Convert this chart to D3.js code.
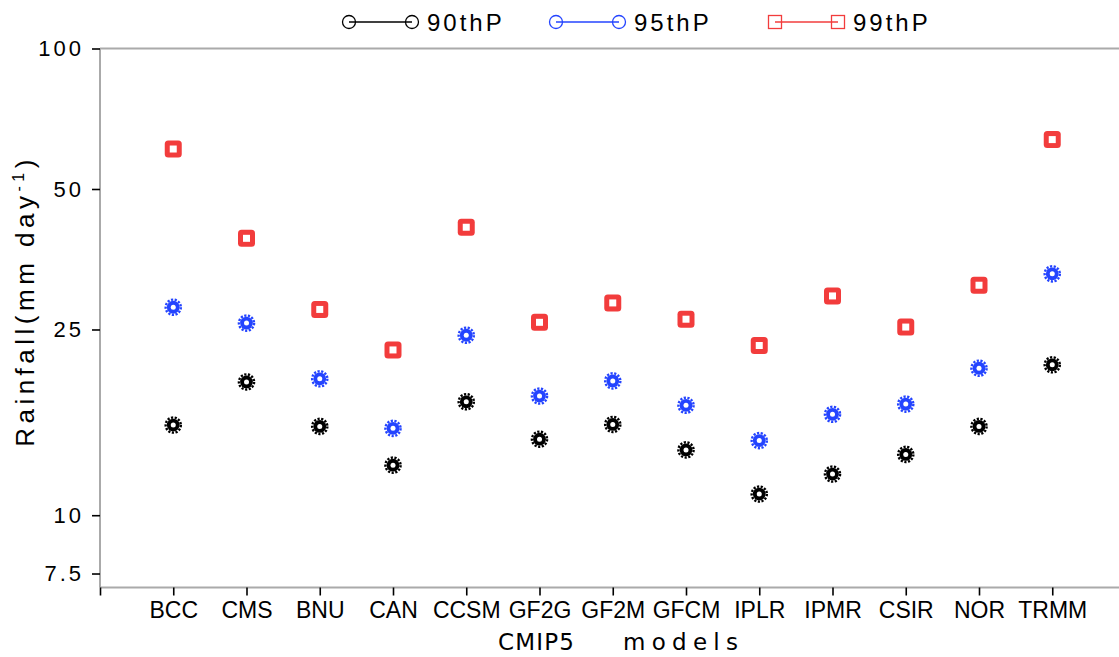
<!DOCTYPE html>
<html lang="en">
<head>
  <meta charset="UTF-8">
  <script src="https://cdn.jsdelivr.net/npm/d3@7"></script>
  <title>Rainfall percentiles - CMIP5 models</title>
  <style>
    body { margin: 0; background: #fff; }
    text { font-family: "Liberation Sans", Arial, sans-serif; fill: #000; }
  </style>
</head>
<body>
  <div class="fig"></div>
  <script>
    // ---------------- data ----------------
    const models = ["BCC", "CMS", "BNU", "CAN", "CCSM", "GF2G", "GF2M", "GFCM", "IPLR", "IPMR", "CSIR", "NOR", "TRMM"];
    const p90 = [15.6, 19.3, 15.5, 12.8, 17.5, 14.55, 15.65, 13.8, 11.1, 12.25, 13.5, 15.5, 21.0];
    const p95 = [27.9, 25.8, 19.6, 15.35, 24.3, 18.0, 19.4, 17.2, 14.45, 16.45, 17.3, 20.65, 32.9];
    const p99 = [60.9, 39.2, 27.6, 22.6, 41.4, 25.9, 28.5, 26.3, 23.1, 29.5, 25.3, 31.1, 63.8];
    const yTicks = [7.5, 10, 25, 50, 100];
    const seriesNames = ["90thP", "95thP", "99thP"];

    // ---------------- layout ----------------
    const width = 1119, height = 657;
    const svg = d3.select(".fig").append("svg")
      .attr("width", width)
      .attr("height", height);

    const x = d3.scaleLinear().domain([0, 14]).range([100, 100 + 14 * 73.25]);
    const y = d3.scaleLog().domain([7, 100]).range([587.5, 48.5]);

    const red = "#f23c3c", blue = "#2444ff", black = "#000";

    // frame lines (left, top, bottom) in grey
    svg.append("line").attr("x1", 100).attr("x2", 100).attr("y1", y(100)).attr("y2", y(7))
      .attr("stroke", "#aaa").attr("stroke-width", 2);
    svg.append("line").attr("x1", 100).attr("x2", width).attr("y1", y(100)).attr("y2", y(100))
      .attr("stroke", "#aaa").attr("stroke-width", 2);
    svg.append("line").attr("x1", 100).attr("x2", width).attr("y1", y(7)).attr("y2", y(7))
      .attr("stroke", "#aaa").attr("stroke-width", 2);

    // y axis
    const yAxis = d3.axisLeft(y).tickValues(yTicks).tickFormat(d => d).tickSize(8).tickPadding(8);
    const gy = svg.append("g").attr("transform", "translate(100,0)").call(yAxis);
    gy.select(".domain").remove();
    gy.selectAll(".tick line").attr("stroke", "#000").attr("stroke-width", 1.6);
    gy.selectAll(".tick text").style("font-size", "22px").style("font-family", "Liberation Sans, Arial, sans-serif")
      .attr("letter-spacing", "3px");

    // x axis
    const xAxis = d3.axisBottom(x).tickValues(d3.range(0, 14))
      .tickFormat(i => i === 0 ? "" : models[i - 1]).tickSize(8).tickPadding(6);
    const gx = svg.append("g").attr("transform", `translate(0,${y(7)})`).call(xAxis);
    gx.select(".domain").remove();
    gx.selectAll(".tick line").attr("stroke", "#000").attr("stroke-width", 1.6);
    gx.selectAll(".tick text").style("font-size", "23px").style("font-family", "Liberation Sans, Arial, sans-serif");

    // axis titles
    svg.append("text")
      .attr("x", 498).attr("y", 650)
      .attr("textLength", 76).attr("lengthAdjust", "spacing")
      .style("font-family", "DejaVu Sans, sans-serif")
      .style("font-size", "23px")
      .text("CMIP5");
    svg.append("text")
      .attr("x", 623).attr("y", 650)
      .attr("textLength", 115).attr("lengthAdjust", "spacing")
      .style("font-family", "DejaVu Sans, sans-serif")
      .style("font-size", "23px")
      .text("models");

    const yl = svg.append("text")
      .attr("transform", "translate(34,301) rotate(-90)")
      .attr("text-anchor", "middle")
      .style("font-size", "26px")
      .attr("letter-spacing", "4.5px");
    yl.append("tspan").text("Rainfall(mm  day");
    yl.append("tspan").attr("dy", -10).style("font-size", "16px").text("-1");
    yl.append("tspan").attr("dy", 10).text(")");

    // ---------------- markers ----------------
    function gear(g, color) {
      g.append("circle").attr("r", 6.4).attr("fill", color);
      g.append("circle").attr("r", 7.6).attr("fill", "none").attr("stroke", color)
        .attr("stroke-width", 2.4).attr("stroke-dasharray", "2.2 1.5");
      g.append("circle").attr("r", 2.5).attr("fill", "#fff");
    }
    function square(g, color) {
      g.append("rect").attr("x", -8.5).attr("y", -8.5).attr("width", 17).attr("height", 17)
        .attr("rx", 3.5).attr("fill", color);
      g.append("rect").attr("x", -3.5).attr("y", -3.5).attr("width", 7).attr("height", 7).attr("fill", "#fff");
    }

    const series = [
      { values: p90, color: black, draw: gear },
      { values: p95, color: blue, draw: gear },
      { values: p99, color: red, draw: square }
    ];
    series.forEach(s => {
      svg.append("g").selectAll("g")
        .data(s.values)
        .enter()
        .append("g")
        .attr("transform", (d, i) => `translate(${x(i + 1)},${y(d)})`)
        .each(function () { s.draw(d3.select(this), s.color); });
    });

    // ---------------- legend ----------------
    const legendX = [349, 556, 775];
    const legendY = 22;
    const legend = svg.append("g");
    seriesNames.forEach((name, k) => {
      const color = series[k].color;
      const x0 = legendX[k], x1 = x0 + 63;
      legend.append("line").attr("x1", x0).attr("x2", x1).attr("y1", legendY).attr("y2", legendY)
        .attr("stroke", color).attr("stroke-width", 1.3);
      [x0, x1].forEach(cx => {
        if (k < 2) {
          legend.append("circle").attr("cx", cx).attr("cy", legendY).attr("r", 6.5)
            .attr("fill", "none").attr("stroke", color).attr("stroke-width", 1.3);
        } else {
          legend.append("rect").attr("x", cx - 6.5).attr("y", legendY - 6.5).attr("width", 13).attr("height", 13)
            .attr("fill", "none").attr("stroke", color).attr("stroke-width", 1.3);
        }
      });
      legend.append("text").attr("x", x1 + 15).attr("y", legendY + 8.5)
        .style("font-size", "24px").attr("letter-spacing", "3px")
        .text(name);
    });
  </script>
</body>
</html>
